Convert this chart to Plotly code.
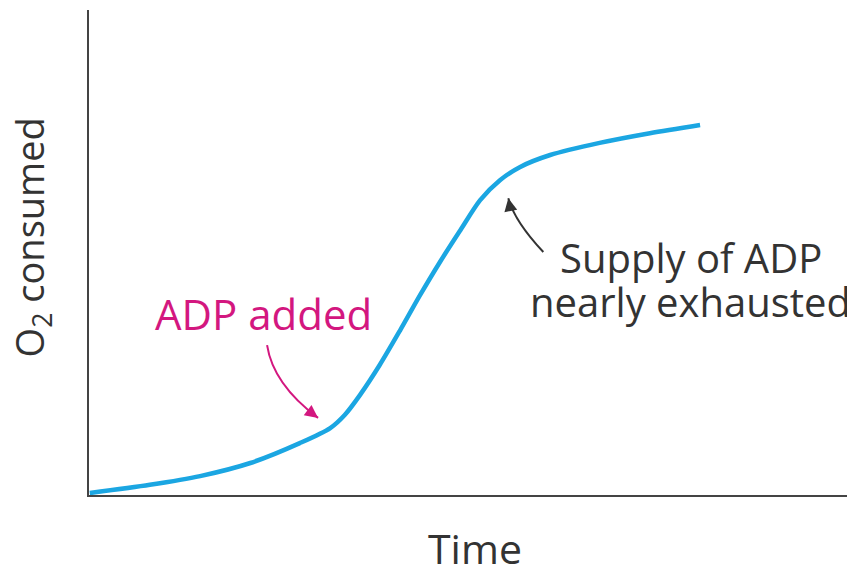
import plotly.graph_objects as go

# Data (arbitrary units, 0-100 scale)
time = [0.1, 8.0, 14.6, 21.2, 27.7, 31.7, 33.6, 35.6, 38.2, 40.9, 43.5, 46.1,
        48.8, 51.4, 54.0, 56.6, 60.6, 67.1, 73.7, 80.3]
o2_consumed = [0.4, 2.1, 3.9, 6.6, 10.7, 13.8, 16.5, 20.6, 26.8, 34.0, 41.2, 48.0,
               54.6, 60.8, 64.9, 67.6, 70.1, 72.6, 74.6, 76.3]

BLUE = "#1ba6e2"
MAGENTA = "#d3177f"
DARK = "#333333"
FONT = "Open Sans"

fig = go.Figure()
fig.add_trace(go.Scatter(x=time, y=o2_consumed, mode="lines",
                         line=dict(color=BLUE, width=4.5, shape="spline", smoothing=0.8),
                         hoverinfo="skip", showlegend=False))

shapes = [
    dict(type="path", xref="x", yref="y",
         path="M 23.4 30.9 Q 24.2 22.8 30.1 15.9",
         line=dict(color=MAGENTA, width=2)),
    dict(type="path", xref="x", yref="y",
         path="M 59.7 50.1 Q 55.9 56.5 55.1 61.2",
         line=dict(color=DARK, width=2)),
]

annotations = [
    dict(x=30.1, y=15.9, ax=28.9, ay=17.3, xref="x", yref="y", axref="x", ayref="y",
         text="", showarrow=True, arrowhead=2, arrowsize=1.3, arrowwidth=2,
         arrowcolor=MAGENTA),
    dict(x=55.1, y=61.2, ax=55.3, ay=59.6, xref="x", yref="y", axref="x", ayref="y",
         text="", showarrow=True, arrowhead=2, arrowsize=1.3, arrowwidth=2,
         arrowcolor=DARK),
    dict(x=22.9, y=37.5, xref="x", yref="y", text="ADP added", showarrow=False,
         xanchor="center", yanchor="middle",
         font=dict(family=FONT, size=42, color=MAGENTA)),
    dict(x=79.1, y=48.9, xref="x", yref="y", text="Supply of ADP",
         xanchor="center", yanchor="middle",
         showarrow=False, font=dict(family=FONT, size=40, color=DARK)),
    dict(x=79.1, y=39.8, xref="x", yref="y", text="nearly exhausted",
         xanchor="center", yanchor="middle",
         showarrow=False, font=dict(family=FONT, size=40, color=DARK)),
    dict(x=0.507, y=-0.109, xref="paper", yref="paper", text="Time", showarrow=False,
         xanchor="center", yanchor="middle",
         font=dict(family=FONT, size=41, color=DARK)),
    dict(x=-0.075, y=0.531, xref="paper", yref="paper", text="O<sub>2</sub> consumed",
         showarrow=False, textangle=-90, xanchor="center", yanchor="middle",
         font=dict(family=FONT, size=38, color=DARK)),
]

fig.update_layout(
    width=855, height=570,
    margin=dict(l=81, r=13, t=2, b=83),
    paper_bgcolor="white", plot_bgcolor="white",
    shapes=shapes, annotations=annotations,
    xaxis=dict(range=[0, 100], showgrid=False, zeroline=False, showticklabels=False,
               ticks="", showline=True, linecolor="#444444", linewidth=2, fixedrange=True),
    yaxis=dict(range=[0, 100], showgrid=False, zeroline=False, showticklabels=False,
               ticks="", showline=True, linecolor="#444444", linewidth=2, fixedrange=True),
)

fig.write_html("out.html")
